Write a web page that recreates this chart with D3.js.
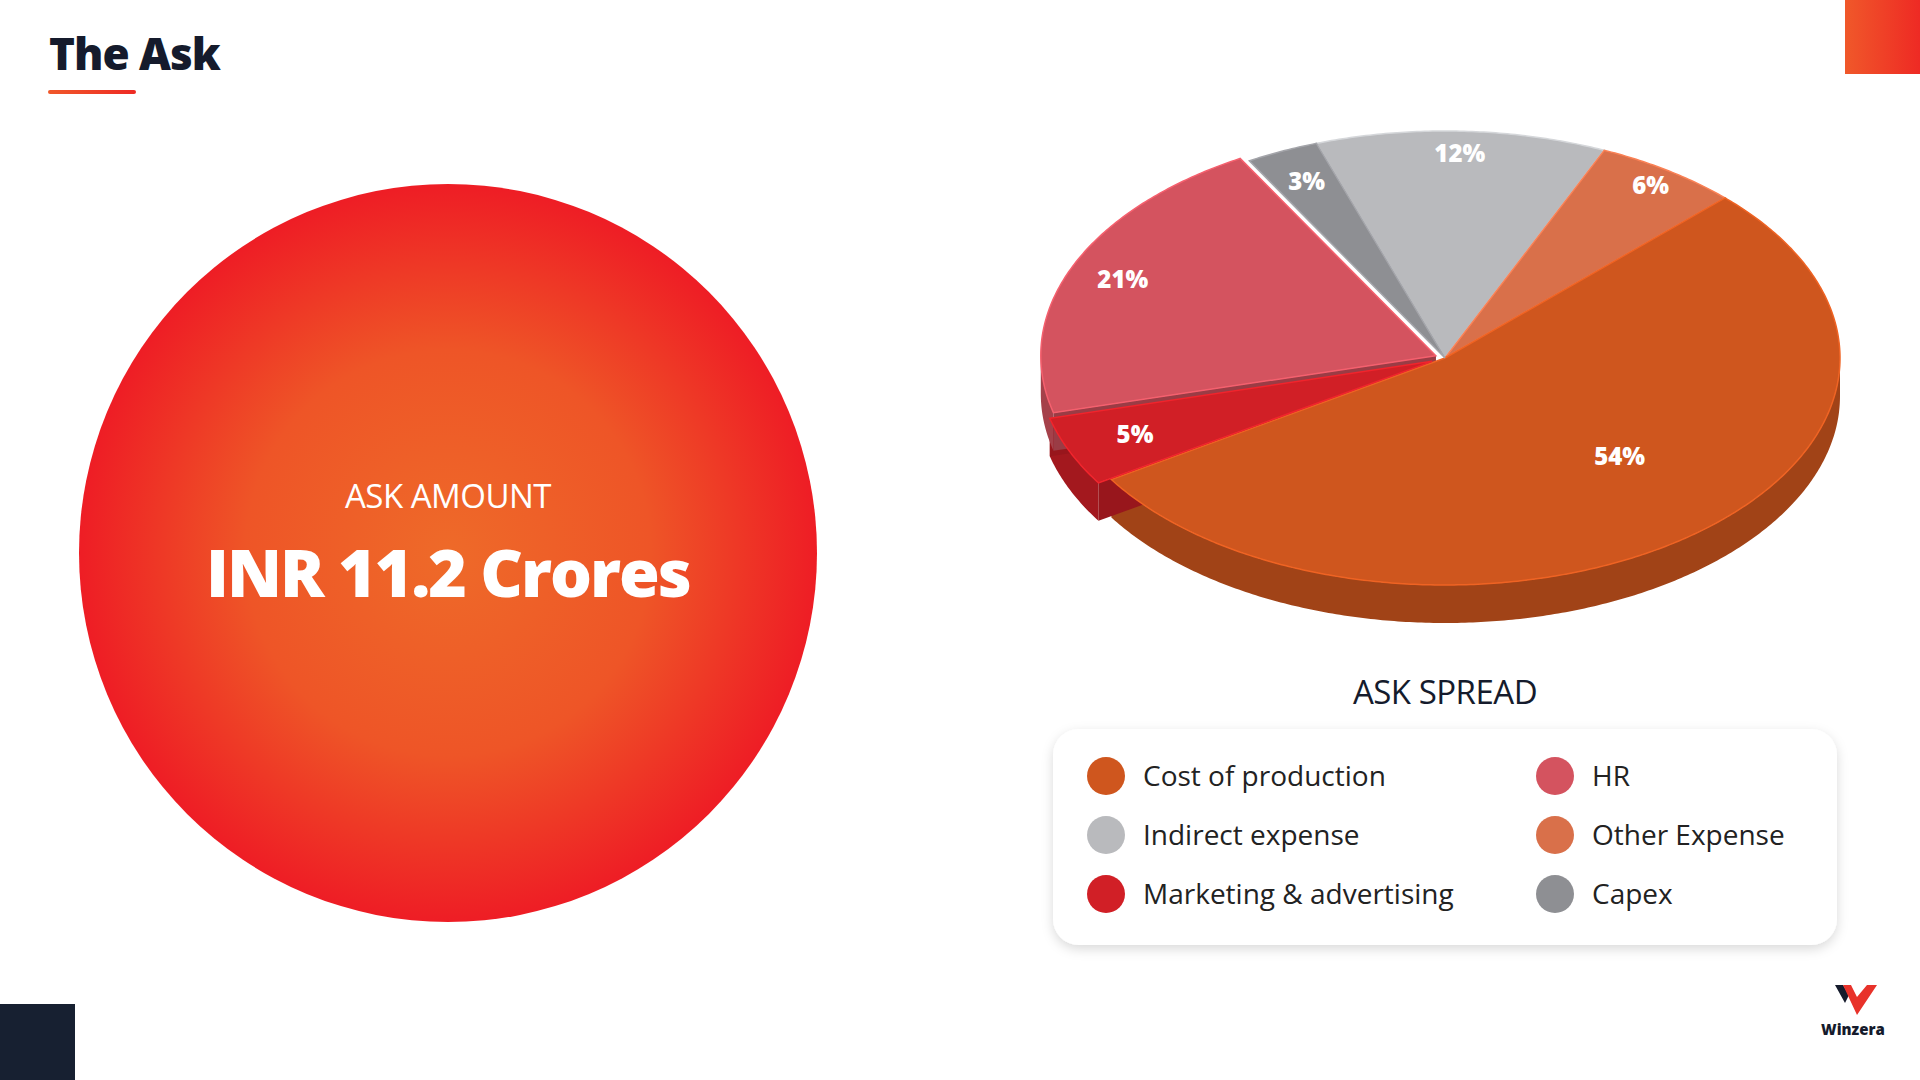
<!DOCTYPE html>
<html><head><meta charset="utf-8">
<script src="https://cdn.jsdelivr.net/npm/d3@7"></script>
<style>body{margin:0;background:#fff;overflow:hidden}</style>
</head><body><div id="chart"></div>
<script>
// data
var categories = ["Indirect expense", "Other Expense", "Cost of production", "Marketing & advertising", "HR", "Capex"];
var values = [12, 6, 54, 5, 21, 3];
var colors = ["#B9BABD", "#D9704A", "#CF561E", "#D11F26", "#D4535F", "#8E8F93"];
var legendOrder = ["Cost of production", "HR", "Indirect expense", "Other Expense", "Marketing & advertising", "Capex"];
var explode = [0, 0, 0, 14, 10, 0];

var W = 1920, H = 1080;
var svg = d3.select("#chart").append("svg").attr("width", W).attr("height", H)
    .style("font-family", "'Open Sans', Lato, sans-serif");
var defs = svg.append("defs");

var rg = defs.append("radialGradient").attr("id", "bubble");
rg.append("stop").attr("offset", "0%").attr("stop-color", "#EE6A29");
rg.append("stop").attr("offset", "55%").attr("stop-color", "#EE5527");
rg.append("stop").attr("offset", "100%").attr("stop-color", "#EE1D25");
var lg = defs.append("linearGradient").attr("id", "corner").attr("x1", 0).attr("x2", 1);
lg.append("stop").attr("offset", "0%").attr("stop-color", "#F0582A");
lg.append("stop").attr("offset", "100%").attr("stop-color", "#EE2A24");
var f = defs.append("filter").attr("id", "shadow").attr("x", "-10%").attr("y", "-10%").attr("width", "120%").attr("height", "130%");
f.append("feDropShadow").attr("dx", 0).attr("dy", 4).attr("stdDeviation", 6).attr("flood-color", "#000").attr("flood-opacity", 0.15);

// header
svg.append("text").attr("x", 49).attr("y", 70).attr("font-size", 44).attr("font-weight", 800)
    .attr("letter-spacing", -1).attr("fill", "#151b2c").text("The Ask");
svg.append("rect").attr("x", 48).attr("y", 90).attr("width", 88).attr("height", 4).attr("rx", 2).attr("fill", "url(#corner)");
svg.append("rect").attr("x", 1845).attr("y", 0).attr("width", 75).attr("height", 74).attr("fill", "url(#corner)");
svg.append("rect").attr("x", 0).attr("y", 1004).attr("width", 75).attr("height", 76).attr("fill", "#172031");

// big circle
svg.append("circle").attr("cx", 448).attr("cy", 553).attr("r", 369).attr("fill", "url(#bubble)");
svg.append("text").attr("x", 448).attr("y", 508).attr("text-anchor", "middle").attr("font-size", 33)
    .attr("fill", "#fff").attr("font-weight", 400).attr("letter-spacing", -0.5).text("ASK AMOUNT");
svg.append("text").attr("x", 448).attr("y", 597).attr("text-anchor", "middle").attr("font-size", 66)
    .attr("fill", "#fff").attr("font-weight", 800).attr("letter-spacing", -2).text("INR 11.2 Crores");

// 3D pie
var cx = 1445, cy = 358, rx = 395, ry = 227, depth = 38;
var start = -19 * Math.PI / 180;
var pie = d3.pie().sort(null).startAngle(start).endAngle(start + 2 * Math.PI);
var arcs = pie(values);
var sx = d3.scaleLinear().domain([-1, 1]).range([-rx, rx]);
var sy = d3.scaleLinear().domain([-1, 1]).range([-ry, ry]);
function pt(a, r, o) { return [o[0] + sx(r * Math.sin(a)), o[1] + sy(-r * Math.cos(a))]; }
function origin(d, i) {
    var m = (d.startAngle + d.endAngle) / 2;
    return [cx + explode[i] * Math.sin(m), cy - explode[i] * Math.cos(m) * 0.6];
}
var g = svg.append("g");
// side walls
arcs.forEach(function(d, i) {
    var o = origin(d, i);
    var a0 = d.startAngle, a1 = d.endAngle;
    var segs = [[Math.PI / 2, 3 * Math.PI / 2], [Math.PI / 2 - 2 * Math.PI, -Math.PI / 2]];
    segs.forEach(function(s) {
        var lo = Math.max(a0, s[0]), hi = Math.min(a1, s[1]);
        if (hi <= lo) return;
        var top = d3.range(lo, hi, 0.01).concat([hi]).map(function(a) { return pt(a, 1, o); });
        var bot = top.slice().reverse().map(function(p) { return [p[0], p[1] + depth]; });
        g.append("path").attr("d", d3.line()(top.concat(bot)) + "Z")
            .attr("fill", d3.color(colors[i]).darker(0.7));
    });
    if (explode[i]) {
        [a0, a1].forEach(function(a) {
            var p = pt(a, 1, o);
            g.append("path").attr("d", d3.line()([o, p, [p[0], p[1] + depth], [o[0], o[1] + depth]]) + "Z")
                .attr("fill", d3.color(colors[i]).darker(0.9));
        });
    }
});
// tops
arcs.forEach(function(d, i) {
    var o = origin(d, i);
    var pts = [o].concat(d3.range(d.startAngle, d.endAngle, 0.01).concat([d.endAngle]).map(function(a) { return pt(a, 1, o); }));
    g.append("path").attr("d", d3.line()(pts) + "Z").attr("fill", colors[i])
        .attr("stroke", d3.color(colors[i]).brighter(0.4)).attr("stroke-width", 1.5);
});
// labels
var labelR = [0.9, 0.92, 0.62, 0.82, 0.86, 0.85];
var labelShift = [0, 0, 0.12, 0, 0, 0];
arcs.forEach(function(d, i) {
    var o = origin(d, i), m = (d.startAngle + d.endAngle) / 2 - labelShift[i];
    var p = pt(m, labelR[i], o);
    g.append("text").attr("x", p[0]).attr("y", p[1] + 8).attr("text-anchor", "middle")
        .attr("font-size", 24).attr("font-weight", 800).attr("fill", "#fff").text(d.data + "%");
});

svg.append("text").attr("x", 1445).attr("y", 704).attr("text-anchor", "middle").attr("font-size", 33)
    .attr("fill", "#151b2c").attr("letter-spacing", -0.5).text("ASK SPREAD");

// legend
svg.append("rect").attr("x", 1053).attr("y", 729).attr("width", 784).attr("height", 216).attr("rx", 26)
    .attr("fill", "#fff").attr("filter", "url(#shadow)");
var leg = svg.append("g").selectAll("g").data(legendOrder).enter().append("g")
    .attr("transform", function(d, i) { return "translate(" + (i % 2 ? 1555 : 1106) + "," + (776 + Math.floor(i / 2) * 59) + ")"; });
leg.append("circle").attr("r", 19).attr("fill", function(d) { return colors[categories.indexOf(d)]; });
leg.append("text").attr("x", 37).attr("y", 10).attr("font-size", 28).attr("fill", "#222").attr("font-weight", 400)
    .text(function(d) { return d; });

// logo
var lgp = svg.append("g").attr("transform", "translate(1853,985)");
lgp.append("path").attr("d", "M-28,0 L-18,0 L-8,18 L-4,10 L-10,0 Z").attr("fill", "#151b2c");
lgp.append("path").attr("d", "M-10,0 L-2,0 L4,12 L14,0 L24,0 L4,30 Z").attr("fill", "#E8322A");
lgp.append("text").attr("x", 0).attr("y", 50).attr("text-anchor", "middle").attr("font-size", 15)
    .attr("font-weight", 800).attr("fill", "#151b2c").text("Winzera");
</script>
</body></html>
